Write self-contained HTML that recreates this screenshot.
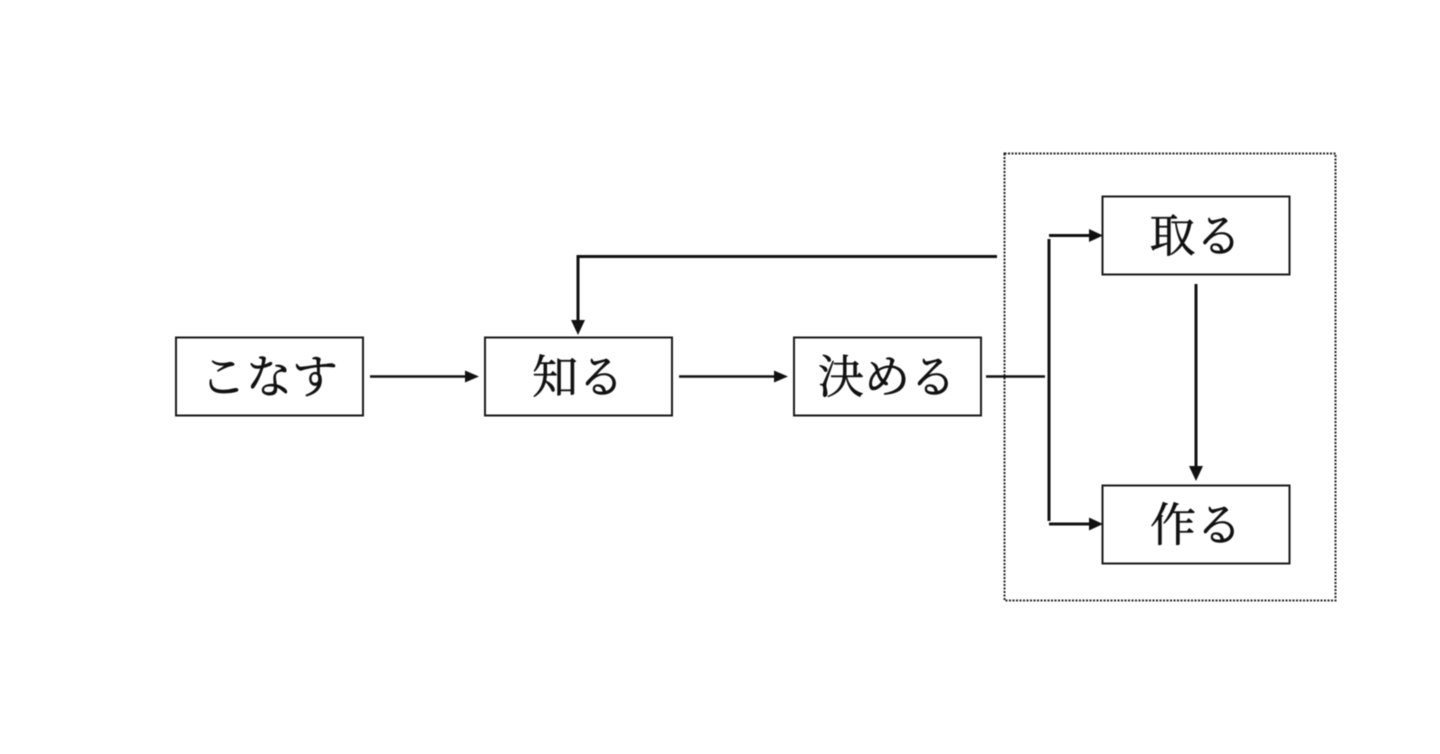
<!DOCTYPE html>
<html lang="ja">
<head>
<meta charset="utf-8">
<style>
html,body{margin:0;padding:0;background:#fff;width:1440px;height:754px;overflow:hidden}
svg{display:block;filter:blur(0.4px)}
text{font-family:"Liberation Serif","Noto Serif CJK SC","Noto Serif CJK JP",serif;font-size:46px;fill:#111;stroke:#111;stroke-width:0.6px;text-anchor:middle}
</style>
</head>
<body>
<svg width="1440" height="754" viewBox="0 0 1440 754" xmlns="http://www.w3.org/2000/svg">
<rect x="1004.5" y="153.5" width="331" height="447" fill="none" stroke="#222" stroke-width="2" stroke-dasharray="2 1.5"/>
<g fill="#fff" stroke="#1a1a1a" stroke-width="2">
<rect x="176" y="337.5" width="187" height="78"/>
<rect x="485" y="337.5" width="187" height="78"/>
<rect x="794" y="337.5" width="187" height="78"/>
<rect x="1102.500" y="196.500" width="187" height="78"/>
<rect x="1102.500" y="485.500" width="187" height="78"/>
</g>
<text x="269" y="393">こなす</text>
<text x="578" y="393">知る</text>
<text x="887" y="393">決める</text>
<text x="1195.500" y="252">取る</text>
<text x="1196" y="541">作る</text>
<g stroke="#111" stroke-width="2.4" fill="none">
<line x1="370" y1="376.500" x2="466" y2="376.500"/>
<line x1="679" y1="376.500" x2="775" y2="376.500"/>
<line x1="986" y1="376.500" x2="1045" y2="376.500"/>
</g>
<g stroke="#111" stroke-width="3" fill="none">
<path d="M997 256.500H578V322"/>
<path d="M1049 235.500H1091"/>
<path d="M1049 239V521"/>
<path d="M1049 524H1091"/>
<line x1="1196" y1="284" x2="1196" y2="468"/>
</g>
<g fill="#111">
<polygon points="479,376.500 465,370.500 465,382.500"/>
<polygon points="788,376.500 774,370.500 774,382.500"/>
<polygon points="578,335 571,320 585,320"/>
<polygon points="1103,235.500 1089,229 1089,242"/>
<polygon points="1103,524 1089,517.500 1089,530.500"/>
<polygon points="1196,481 1189,466 1203,466"/>
</g>
</svg>
</body>
</html>
